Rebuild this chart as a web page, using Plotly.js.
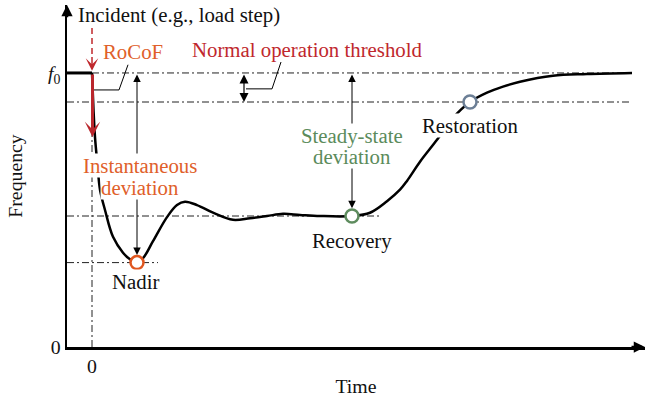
<!DOCTYPE html>
<html>
<head>
<meta charset="utf-8">
<script src="https://cdn.plot.ly/plotly-3.0.1.min.js"></script>
<style>html,body{margin:0;padding:0;background:#fff;}#chart{width:646px;height:397px;}</style>
</head>
<body>
<div id="chart"></div>
<script>
// ---- data (schematic frequency response) ----
const preTime = [-2.5, 0];
const preFreq = [50, 50];
const time = [0, 0.15, 0.3, 0.55, 0.8, 1.3, 2.1, 3.1, 3.8, 4.5, 5.1, 6.1, 7.5, 8.5, 9.3, 10.5, 12.1, 14.1, 15.8, 17.5, 19.1, 20.8, 22.8, 26, 27.8, 29.5, 30.8, 31.5, 32.8, 34.5, 36.1, 37.8, 39.5, 41.1, 42.8, 46.1, 49.5, 54];
const freq = [50, 43.3, 38.3, 33.2, 28.7, 25.0, 20.1, 17.2, 16.0, 15.4, 16.2, 19.3, 23.7, 25.9, 26.5, 25.9, 24.5, 23.2, 23.5, 23.9, 24.3, 24.1, 23.9, 23.9, 24.5, 26.6, 28.7, 30.3, 33.8, 37.8, 41.8, 44.7, 46.4, 47.5, 48.4, 49.5, 49.8, 50];
const eventNames = ["Nadir", "Recovery", "Restoration"];
const eventTime = [4.5, 26, 37.8];
const eventFreq = [15.4, 23.9, 44.7];
const eventColors = ["#e0561f", "#5e8c5e", "#6c7f96"];
const f0 = 50;
const threshold = 44.7;
const steadyLevel = 23.9;
const nadirLevel = 15.4;
const rocofTip = 38.3;
const xTickVals = [0];
const xTickText = ["0"];
const yTickVals = [0, 50];
const yTickText = ["0", "<i>f</i><sub>0</sub>"];
const xRange = [-2.5, 55.3];
const yRange = [0, 62.4];

const FONT = "Liberation Serif, Times New Roman, serif";
const FS = 20.8;
const ORANGE = "#e0602a";
const RED = "#c0282d";
const GREEN = "#5b8b5b";
const DASHDOT = "7px,3px,2px,3px";

const traces = [
  {x: preTime, y: preFreq, mode: "lines", line: {color: "#000", width: 3}, hoverinfo: "skip"},
  {x: time, y: freq, mode: "lines", line: {color: "#000", width: 2.5, shape: "spline", smoothing: 1}, hoverinfo: "skip"},
  {x: eventTime, y: eventFreq, mode: "markers", text: eventNames,
   marker: {size: 13, color: "#fff", line: {color: eventColors, width: 2.5}}, hoverinfo: "text"}
];

function hline(y, x0, x1) {
  return {type: "line", xref: "x", yref: "y", x0: x0, x1: x1, y0: y, y1: y, layer: "below",
          line: {color: "#222", width: 1, dash: DASHDOT}};
}
const shapes = [
  hline(f0, 0, 54),
  hline(threshold, xRange[0], 54),
  hline(steadyLevel, xRange[0], 29),
  hline(nadirLevel, xRange[0], 6.6),
  {type: "line", xref: "x", yref: "y", x0: 0, x1: 0, y0: 0, y1: f0, layer: "below",
   line: {color: "#222", width: 1, dash: DASHDOT}},
  // red dashed incident line
  {type: "line", xref: "x", yref: "y", x0: 0, x1: 0, y0: 58.2, y1: 53, line: {color: "#c0282d", width: 1.5, dash: "6px,4px"}},
  // leader lines
  {type: "path", xref: "x", yref: "y", path: "M3.6,51.5 L2.7,46.9 L0.15,46.9", line: {color: "#000", width: 1}},
  {type: "path", xref: "x", yref: "y", path: "M18.9,52.0 L18.0,47.1 L15.4,47.1", line: {color: "#000", width: 1}}
];

function arrow(x, y, ax, ay, opts) {
  return Object.assign({x: x, y: y, ax: ax, ay: ay, xref: "x", yref: "y", axref: "x", ayref: "y",
    text: "", showarrow: true, arrowhead: 2, arrowsize: 1, arrowwidth: 1, arrowcolor: "#000"}, opts || {});
}
function label(x, y, text, color, opts) {
  return Object.assign({x: x, y: y, xref: "x", yref: "y", text: text, showarrow: false,
    font: {family: FONT, size: FS, color: color || "#111"}, bgcolor: "#fff", borderpad: 0}, opts || {});
}
const CLEAR = {bgcolor: "rgba(0,0,0,0)"};

const annotations = [
  // axis arrowheads
  arrow(xRange[1], 0, xRange[1] - 1.5, 0, {arrowhead: 2, arrowwidth: 2.5, arrowsize: 0.9}),
  arrow(xRange[0], yRange[1], xRange[0], yRange[1] - 2.5, {arrowhead: 2, arrowwidth: 2.5, arrowsize: 0.9}),
  // incident dashed arrow head
  arrow(0, f0 + 0.4, 0, 53.2, {arrowhead: 3, arrowwidth: 1.5, arrowsize: 1.4, arrowcolor: "#c0282d"}),
  // RoCoF arrow
  arrow(0.05, rocofTip, 0.05, f0, {arrowhead: 3, arrowwidth: 3, arrowsize: 0.85, arrowcolor: "#b9262c"}),
  // deviation arrows
  arrow(eventTime[0], nadirLevel + 1.4, eventTime[0], f0, {arrowside: "end+start", arrowsize: 1.5}),
  arrow(eventTime[1], steadyLevel + 1.4, eventTime[1], f0, {arrowside: "end+start", arrowsize: 1.5}),
  arrow(15.2, threshold, 15.2, f0, {arrowside: "end+start", arrowsize: 1.5, arrowwidth: 1.2}),
  // labels (second lines drawn first so the first line's descenders stay visible)
  label(8.7, 60.5, "Incident (e.g., load step)", "#111", CLEAR),
  label(4.1, 54.0, "RoCoF", ORANGE, CLEAR),
  label(21.5, 54.2, "Normal operation threshold", RED, CLEAR),
  label(4.8, 29.1, "deviation", ORANGE),
  label(4.8, 33.1, "Instantaneous", ORANGE),
  label(26, 34.7, "deviation", GREEN),
  label(26, 38.5, "Steady-state", GREEN),
  label(eventTime[0] - 0.2, 11.9, eventNames[0]),
  label(eventTime[1], 19.4, eventNames[1]),
  label(eventTime[2], 40.4, eventNames[2])
];

const layout = {
  width: 646, height: 397,
  margin: {l: 67, r: 1, t: 5, b: 50},
  paper_bgcolor: "#fff", plot_bgcolor: "#fff",
  showlegend: false,
  font: {family: FONT, size: FS, color: "#111"},
  xaxis: {range: xRange, showgrid: false, zeroline: false, showline: true, linecolor: "#000", linewidth: 2.5,
          tickvals: xTickVals, ticktext: xTickText, ticks: "", fixedrange: true,
          tickfont: {family: FONT, size: FS - 1, color: "#111"},
          title: {text: "Time", font: {family: FONT, size: FS - 1, color: "#111"}, standoff: 4}},
  yaxis: {range: yRange, showgrid: false, zeroline: false, showline: true, linecolor: "#000", linewidth: 2.5,
          tickvals: yTickVals, ticktext: yTickText, ticks: "", fixedrange: true,
          tickfont: {family: FONT, size: FS - 1, color: "#111"},
          title: {text: "Frequency", font: {family: FONT, size: FS - 1, color: "#111"}, standoff: 20}},
  shapes: shapes,
  annotations: annotations
};

Plotly.newPlot("chart", traces, layout, {displayModeBar: false, staticPlot: true});
</script>
</body>
</html>
